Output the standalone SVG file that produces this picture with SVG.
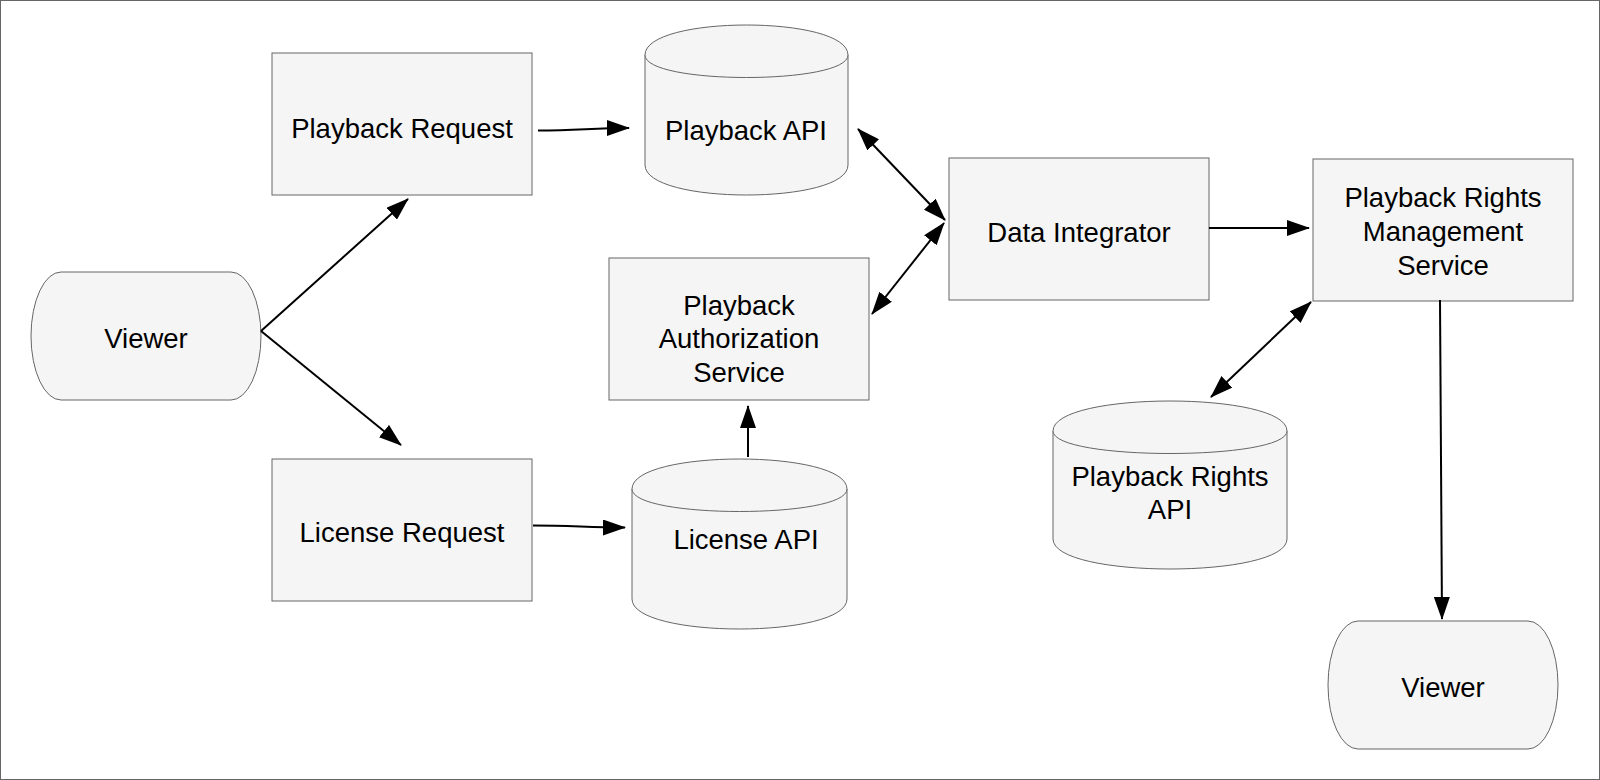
<svg xmlns="http://www.w3.org/2000/svg" width="1600" height="780" viewBox="0 0 1600 780">
<defs>
<style>
.shape{fill:#f5f5f5;stroke:#666666;stroke-width:1}
.lbl{font-family:"Liberation Sans",Arial,Helvetica,sans-serif;font-size:27.5px;fill:#000;text-anchor:middle}
.edge{fill:none;stroke:#000;stroke-width:2}
</style>
<marker id="arr" viewBox="0 0 23 16" refX="22" refY="8" markerWidth="23" markerHeight="16" markerUnits="userSpaceOnUse" orient="auto-start-reverse">
<path d="M0,0 L23,8 L0,16 Z" fill="#000"/>
</marker>
</defs>
<rect x="0.5" y="0.5" width="1599" height="779" fill="#ffffff" stroke="#666666" stroke-width="1"/>

<g id="viewer-left">
<rect class="shape" x="31" y="272" width="230" height="128" rx="30" ry="64"/>
<text class="lbl" x="146" y="348">Viewer</text>
</g>
<g id="playback-request">
<rect class="shape" x="272" y="53" width="260" height="142"/>
<text class="lbl" x="402" y="137.5">Playback Request</text>
</g>
<g id="license-request">
<rect class="shape" x="272" y="459" width="260" height="142"/>
<text class="lbl" x="402" y="541.5">License Request</text>
</g>
<g id="playback-api">
<path class="shape" d="M645,55 C645,15 848,15 848,55 L848,165 C848,205 645,205 645,165 Z"/>
<path class="shape" d="M645,55 C645,85 848,85 848,55"/>
<text class="lbl" x="746" y="139.5">Playback API</text>
</g>
<g id="license-api">
<path class="shape" d="M632,489 C632,449 847,449 847,489 L847,599 C847,639 632,639 632,599 Z"/>
<path class="shape" d="M632,489 C632,519 847,519 847,489"/>
<text class="lbl" x="746" y="548.5">License API</text>
</g>
<g id="playback-authorization-service">
<rect class="shape" x="609" y="258" width="260" height="142"/>
<text class="lbl" x="739" y="315">Playback</text>
<text class="lbl" x="739" y="348">Authorization</text>
<text class="lbl" x="739" y="381.5">Service</text>
</g>
<g id="data-integrator">
<rect class="shape" x="949" y="158" width="260" height="142"/>
<text class="lbl" x="1079" y="241.5">Data Integrator</text>
</g>
<g id="playback-rights-management-service">
<rect class="shape" x="1313" y="159" width="260" height="142"/>
<text class="lbl" x="1443" y="207">Playback Rights</text>
<text class="lbl" x="1443" y="241">Management</text>
<text class="lbl" x="1443" y="275">Service</text>
</g>
<g id="playback-rights-api">
<path class="shape" d="M1053,431 C1053,391 1287,391 1287,431 L1287,539 C1287,579 1053,579 1053,539 Z"/>
<path class="shape" d="M1053,431 C1053,461 1287,461 1287,431"/>
<text class="lbl" x="1170" y="485.5">Playback Rights</text>
<text class="lbl" x="1170" y="519">API</text>
</g>
<g id="viewer-right">
<rect class="shape" x="1328" y="621" width="230" height="128" rx="30" ry="64"/>
<text class="lbl" x="1443" y="697">Viewer</text>
</g>

<g id="connectors">
<path class="edge" d="M261,331 L408,199" marker-end="url(#arr)"/>
<path class="edge" d="M261,331 L401,445" marker-end="url(#arr)"/>
<path class="edge" d="M538,130.5 C578,130.5 592,128 629,128" marker-end="url(#arr)"/>
<path class="edge" d="M858,129 L945,220" marker-start="url(#arr)" marker-end="url(#arr)"/>
<path class="edge" d="M944,223 L872,314" marker-start="url(#arr)" marker-end="url(#arr)"/>
<path class="edge" d="M748,457 L748,406" marker-end="url(#arr)"/>
<path class="edge" d="M533,525.5 C572,525.5 588,527.5 625,527.5" marker-end="url(#arr)"/>
<path class="edge" d="M1209,228 L1309,228" marker-end="url(#arr)"/>
<path class="edge" d="M1311,302 L1211,397" marker-start="url(#arr)" marker-end="url(#arr)"/>
<path class="edge" d="M1440,300 L1442,619" marker-end="url(#arr)"/>
</g>
</svg>
